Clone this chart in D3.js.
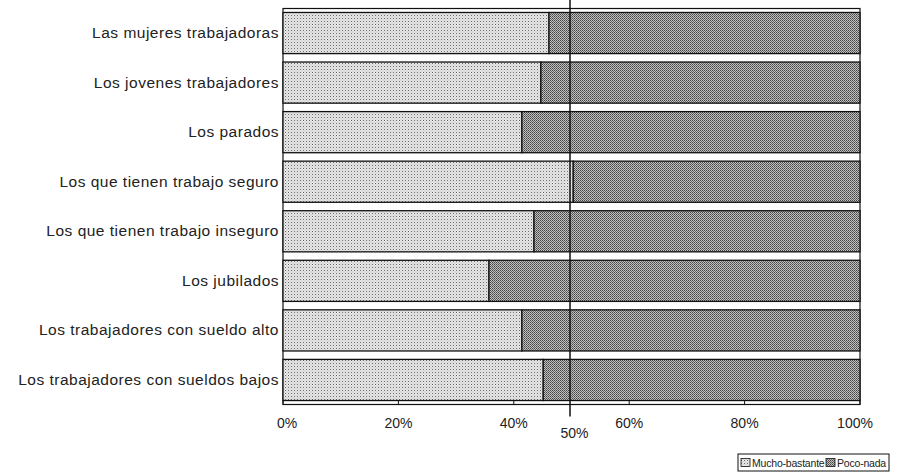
<!DOCTYPE html>
<html>
<head>
<meta charset="utf-8">
<script src="https://cdn.jsdelivr.net/npm/d3@7"></script>
<style>
  body { margin: 0; background: #fff; }
  text { font-family: "Liberation Sans", Arial, sans-serif; fill: #222; }
</style>
</head>
<body>
<div id="chart"></div>
<script>
// datos
const categorias = [
    'Las mujeres trabajadoras',
    'Los jovenes trabajadores',
    'Los parados',
    'Los que tienen trabajo seguro',
    'Los que tienen trabajo inseguro',
    'Los jubilados',
    'Los trabajadores con sueldo alto',
    'Los trabajadores con sueldos bajos'
];
const muchoBastante = [46.1, 44.7, 41.4, 50.3, 43.5, 35.7, 41.4, 45.1];
const pocoNada = muchoBastante.map(v => 100 - v);
const ticks = [0, 20, 40, 60, 80, 100];
const series = ['Mucho-bastante', 'Poco-nada'];

const width = 899, height = 474;
const margin = { left: 283, right: 39, top: 8.5, bottom: 69.5 };

const svg = d3.select('#chart').append('svg')
    .attr('width', width)
    .attr('height', height);

// tramas punteadas
const defs = svg.append('defs');
const light = defs.append('pattern').attr('id', 'pLight')
    .attr('width', 3).attr('height', 3).attr('patternUnits', 'userSpaceOnUse');
light.append('rect').attr('width', 3).attr('height', 3).attr('fill', '#e6e6e6');
light.append('rect').attr('x', 0).attr('y', 0).attr('width', 1).attr('height', 1).attr('fill', '#6a6a6a');
light.append('rect').attr('x', 1.5).attr('y', 1.5).attr('width', 1).attr('height', 1).attr('fill', '#b8b8b8');

const dark = defs.append('pattern').attr('id', 'pDark')
    .attr('width', 2).attr('height', 2).attr('patternUnits', 'userSpaceOnUse');
dark.append('rect').attr('width', 2).attr('height', 2).attr('fill', '#c0c0c0');
dark.append('rect').attr('x', 0).attr('y', 0).attr('width', 1).attr('height', 1).attr('fill', '#444');
dark.append('rect').attr('x', 1).attr('y', 1).attr('width', 1).attr('height', 1).attr('fill', '#666');

const fills = ['url(#pLight)', 'url(#pDark)'];

const x = d3.scaleLinear().domain([0, 100]).range([margin.left, width - margin.right]);
const y = d3.scaleBand().domain(categorias).range([margin.top, height - margin.bottom]).paddingInner(0.17).paddingOuter(0.08);

const filas = categorias.map((c, i) => ({ cat: c, vals: [muchoBastante[i], pocoNada[i]] }));
const stack = d3.stack().keys([0, 1]).value((d, k) => d.vals[k]);
const capas = stack(filas);

// marco del área
svg.append('rect')
    .attr('x', x(0)).attr('y', margin.top)
    .attr('width', x(100) - x(0)).attr('height', height - margin.bottom - margin.top)
    .attr('fill', 'none').attr('stroke', '#111').attr('stroke-width', 1.2);

// barras
svg.append('g').selectAll('g')
    .data(capas)
    .enter().append('g')
    .attr('fill', (d, i) => fills[i])
    .selectAll('rect')
    .data(d => d)
    .enter().append('rect')
    .attr('x', d => x(d[0]))
    .attr('y', d => y(d.data.cat))
    .attr('width', d => x(d[1]) - x(d[0]))
    .attr('height', y.bandwidth())
    .attr('stroke', '#111')
    .attr('stroke-width', 1.3);

// marcas del eje inferior
const yBase = height - margin.bottom;
svg.append('g').selectAll('line')
    .data(ticks)
    .enter().append('line')
    .attr('x1', d => x(d)).attr('x2', d => x(d))
    .attr('y1', yBase).attr('y2', yBase - 4)
    .attr('stroke', '#111');

// etiquetas del eje
svg.append('g').selectAll('text')
    .data(ticks)
    .enter().append('text')
    .attr('x', d => x(d) + (d === 0 ? 4 : d === 100 ? -5 : 0))
    .attr('y', yBase + 23)
    .attr('text-anchor', 'middle')
    .style('font-size', '14px')
    .text(d => d + '%');

// línea del 50%
svg.append('line')
    .attr('x1', x(50) - 1.5).attr('x2', x(50) - 1.5)
    .attr('y1', 0).attr('y2', yBase + 12)
    .attr('stroke', '#111').attr('stroke-width', 1.5);
svg.append('text')
    .attr('x', x(50) + 3).attr('y', yBase + 33)
    .attr('text-anchor', 'middle')
    .style('font-size', '14px')
    .text('50%');

// categorías
svg.append('g').selectAll('text')
    .data(categorias)
    .enter().append('text')
    .attr('x', x(0) - 4)
    .attr('y', d => y(d) + y.bandwidth() / 2 + 5)
    .attr('text-anchor', 'end')
    .style('font-size', '15.5px')
    .style('letter-spacing', '0.5px')
    .text(d => d);

// leyenda
const lg = svg.append('g').attr('transform', 'translate(738,454)');
lg.append('rect').attr('width', 151).attr('height', 17)
    .attr('fill', '#fff').attr('stroke', '#111');
const posX = [3, 88];
series.forEach((s, i) => {
    lg.append('rect')
        .attr('x', posX[i]).attr('y', 4.5)
        .attr('width', 9).attr('height', 8)
        .attr('fill', fills[i]).attr('stroke', '#111').attr('stroke-width', 0.8);
    lg.append('text')
        .attr('x', posX[i] + 11).attr('y', 13)
        .style('font-size', '10.5px')
        .style('letter-spacing', '-0.2px')
        .text(s);
});
</script>
</body>
</html>
